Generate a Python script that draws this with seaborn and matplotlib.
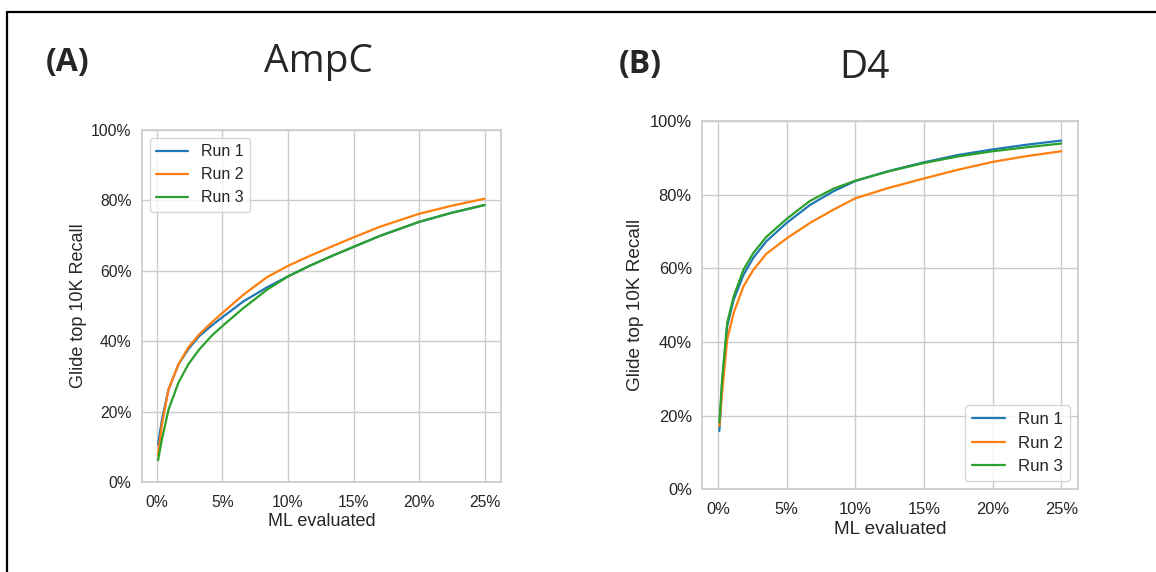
import numpy as np
import pandas as pd
import matplotlib
matplotlib.use('Agg')
import matplotlib.pyplot as plt
import seaborn as sns
from matplotlib.lines import Line2D
from matplotlib.ticker import PercentFormatter

# AmpC (panel A) - % of library evaluated vs recall of top 10K
ampc_x = [0.1, 0.4, 0.9, 1.65, 2.4, 3.2, 4.2, 5, 6.6, 8.4, 10, 11.7, 13.4, 15, 17, 20, 22.5, 25]
ampc_run1 = [10.7, 17.8, 26.3, 33.4, 37.7, 41.3, 44.5, 46.8, 51.3, 55.3, 58.4, 61.5, 64.3, 66.8, 69.9, 73.9, 76.5, 78.7]
ampc_run2 = [7.8, 16.4, 26.3, 33.4, 38.2, 41.8, 45.4, 48.0, 53.2, 58.2, 61.4, 64.3, 67.0, 69.5, 72.5, 76.2, 78.5, 80.5]
ampc_run3 = [6.2, 12.2, 20.6, 28.2, 33.4, 37.5, 41.6, 44.3, 49.4, 54.6, 58.4, 61.5, 64.3, 66.8, 69.9, 73.9, 76.5, 78.7]

# D4 (panel B)
d4_x = [0.1, 0.3, 0.67, 1.14, 1.86, 2.57, 3.52, 5, 6.7, 8.4, 10, 12.4, 15, 17.5, 20, 22.5, 25]
d4_run1 = [15.8, 28.9, 44.3, 51.5, 58.3, 62.9, 67.4, 72.4, 77.3, 81.0, 83.8, 86.5, 88.9, 90.9, 92.4, 93.7, 94.8]
d4_run2 = [17.2, 26.1, 40.7, 47.9, 55.2, 59.6, 64.0, 68.2, 72.4, 76.0, 79.1, 81.9, 84.5, 86.9, 89.0, 90.6, 91.9]
d4_run3 = [18.1, 29.8, 45.2, 52.4, 59.7, 64.2, 68.6, 73.5, 78.4, 81.7, 83.9, 86.4, 88.7, 90.5, 91.9, 93.0, 94.0]

run_names = ['Run 1', 'Run 2', 'Run 3']
x_ticks = [0, 5, 10, 15, 20, 25]
y_ticks = [0, 20, 40, 60, 80, 100]


def to_long(x, runs):
    frames = []
    for name, vals in zip(run_names, runs):
        frames.append(pd.DataFrame({'evaluated': x, 'recall': vals, 'run': name}))
    return pd.concat(frames, ignore_index=True)


def draw_panel(ax, df, legend_loc, scale=1.0, ylabelpad=3, xlabelpad=2.5):
    sns.lineplot(data=df, x='evaluated', y='recall', hue='run', ax=ax,
                 palette='tab10', linewidth=1.6)
    ax.set_ylim(0, 100)
    ax.set_xticks(x_ticks)
    ax.set_yticks(y_ticks)
    ax.xaxis.set_major_formatter(PercentFormatter(decimals=0))
    ax.yaxis.set_major_formatter(PercentFormatter(decimals=0))
    ax.set_xlabel('ML evaluated', fontsize=13 * scale, labelpad=xlabelpad)
    ax.set_ylabel('Glide top 10K Recall', fontsize=13 * scale, labelpad=ylabelpad)
    ax.tick_params(axis='x', labelsize=11.3 * scale, pad=3)
    ax.tick_params(axis='y', labelsize=11.3 * scale, pad=1.5)
    ax.legend(loc=legend_loc, fontsize=11.5 * scale, title=None)


sns.set_theme(style='whitegrid')
plt.rcParams['font.family'] = ['Liberation Sans', 'DejaVu Sans']

fig = plt.figure(figsize=(11.56, 5.72), dpi=100)
ax_a = fig.add_axes([0.1226, 0.1573, 0.3108, 0.6154])
ax_b = fig.add_axes([0.6075, 0.1451, 0.3254, 0.6425])

draw_panel(ax_a, to_long(ampc_x, [ampc_run1, ampc_run2, ampc_run3]), 'upper left')
draw_panel(ax_b, to_long(d4_x, [d4_run1, d4_run2, d4_run3]), 'lower right',
           scale=1.05, ylabelpad=4, xlabelpad=3)

# frame around the figure (top and left only)
fig.add_artist(Line2D([7 / 1156, 1], [1 - 11.5 / 572] * 2, color='black', lw=1.6))
fig.add_artist(Line2D([7 / 1156] * 2, [0, 1 - 11.5 / 572], color='black', lw=1.6))

head = ['Open Sans', 'DejaVu Sans']
fig.text(68 / 1156, 1 - 63 / 572, '(A)', fontsize=23, fontweight='bold', family=head,
         ha='center', va='center')
fig.text(318 / 1156, 1 - 72 / 572, 'AmpC', fontsize=28, family=head, ha='center', va='baseline')
fig.text(640 / 1156, 1 - 64 / 572, '(B)', fontsize=23, fontweight='bold', family=head,
         ha='center', va='center')
fig.text(864 / 1156, 1 - 78 / 572, 'D4', fontsize=28, family=head, ha='center', va='baseline')

fig.savefig('out.png', dpi=100)
